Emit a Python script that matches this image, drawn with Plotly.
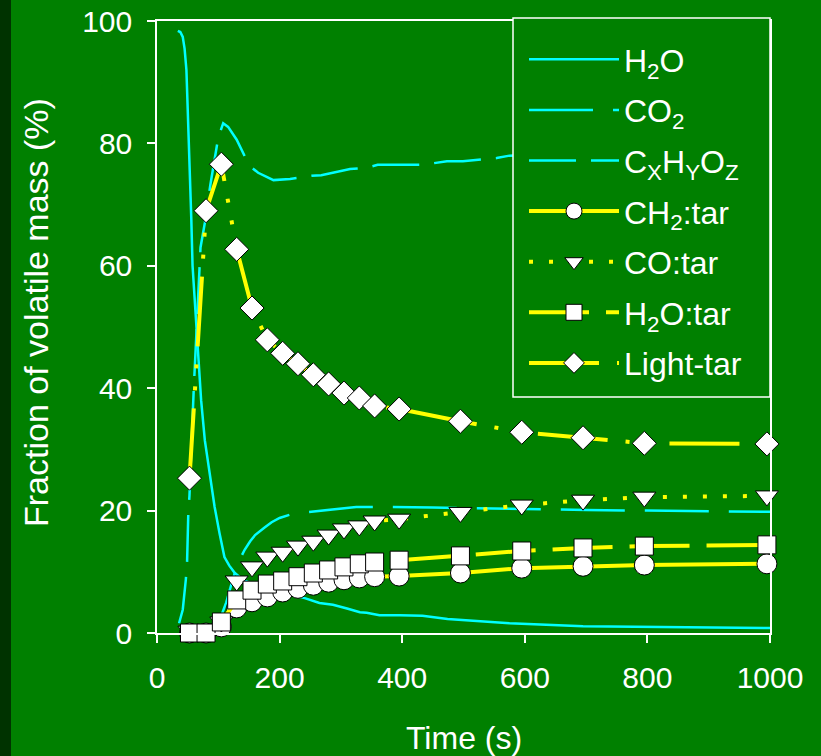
import plotly.graph_objects as go

# ---------------- data ----------------
h2o_t = [34, 38, 42, 45, 48, 51, 53, 56, 58, 65, 72, 78, 86, 94, 102, 110, 118, 127, 140, 160, 180,
         200, 220, 241, 265, 287, 310, 331, 342, 363, 396, 433, 474, 554, 575, 695, 776, 1000]
h2o_v = [98.4, 98.2, 97.4, 95.5, 92, 83.8, 75.7, 67.5, 60, 48, 38, 31.5, 26.1, 20.6, 16.3, 12.4, 11, 9.8,
         8.7, 7.8, 7.1, 6.6, 6.1, 5.7, 4.9, 4.6, 4.0, 3.4, 3.3, 2.9, 2.9, 2.8, 2.3, 1.8, 1.6, 1.1, 1.0, 0.8]

co2_t = [92, 100, 107, 113, 120, 127, 135, 143, 152, 160, 175, 187, 200, 219, 240, 265, 300, 325, 358,
         400, 450, 500, 550, 600, 650, 700, 800, 900, 1000]
co2_v = [0, 0.8, 3.4, 5, 7.5, 9.8, 12, 13.6, 15, 16, 17.2, 18.1, 18.8, 19.4, 19.7, 20, 20.3, 20.6, 20.6,
         20.6, 20.5, 20.4, 20.3, 20.3, 20.2, 20.1, 20.0, 19.9, 19.8]

cxhyoz_t = [36, 42, 47, 49, 51, 53, 60, 71, 78, 87, 100, 108, 116, 130, 146, 155, 165, 190, 217, 252,
            268, 293, 315, 342, 360, 396, 434, 473, 499, 554, 575, 650, 750, 850, 1000]
cxhyoz_v = [1.6, 3.8, 8.7, 11.4, 19.3, 22.5, 40, 63, 67, 73.2, 81, 83.3, 82.7, 80.6, 77.3, 76, 75.2, 74,
            74.2, 74.7, 74.8, 75.3, 75.8, 76, 76.5, 76.5, 76.5, 77.1, 77.1, 77.6, 78, 78.3, 78.6, 78.8, 79]

tar_t = [53, 80, 105, 130, 155, 180, 205, 230, 255, 280, 305, 330, 355, 395, 495, 595, 695, 795, 995]
ch2_tar = [0, 0, 1.0, 4.1, 5.1, 5.9, 6.7, 7.3, 7.8, 8.3, 8.7, 9.0, 9.2, 9.3, 9.8, 10.6, 10.9, 11.1, 11.3]
co_tar = [0.3, 0.3, 1.8, 8.5, 10.8, 12.4, 13.2, 14.2, 15.0, 16.0, 17.0, 17.5, 18.3, 18.6, 19.7, 20.9, 21.7, 22.2, 22.4]
h2o_tar = [0, 0, 1.8, 5.4, 7.0, 8.0, 8.5, 9.2, 9.8, 10.3, 10.8, 11.3, 11.6, 11.9, 12.6, 13.4, 13.9, 14.2, 14.4]
light_tar = [25.3, 69.0, 76.6, 62.7, 53.1, 47.9, 45.7, 44.0, 42.2, 40.7, 39.2, 38.4, 37.1, 36.6, 34.6,
             32.8, 31.9, 31.0, 30.9]

x_ticks = [0, 200, 400, 600, 800, 1000]
y_ticks = [0, 20, 40, 60, 80, 100]

# ---------------- styling ----------------
GREEN = "#008000"
CYAN = "#00FFFF"
YELLOW = "#FFFF00"
WHITE = "#FFFFFF"
FONT = "Liberation Sans, Arial, sans-serif"

fig = go.Figure()

cyan_series = [
    ("H<sub>2</sub>O", h2o_t, h2o_v, "solid"),
    ("CO<sub>2</sub>", co2_t, co2_v, "64px,20px"),
    ("C<sub>X</sub>H<sub>Y</sub>O<sub>Z</sub>", cxhyoz_t, cxhyoz_v, "47px,15px"),
]
for name, t, v, dash in cyan_series:
    fig.add_trace(go.Scatter(
        x=t, y=v, name=name, mode="lines", legendgroup=name,
        line=dict(color=CYAN, width=2.5, dash=dash),
        cliponaxis=False,
    ))

tar_series = [
    ("CH<sub>2</sub>:tar", ch2_tar, "solid", "circle", 20),
    ("CO:tar", co_tar, "4px,16px", "triangle-down", 20),
    ("H<sub>2</sub>O:tar", h2o_tar, "60px,17px", "square", 18),
    ("Light-tar", light_tar, "70px,18px,4px,18px,4px,18px", "diamond", 18.5),
]
for name, v, dash, sym, size in tar_series:
    fig.add_trace(go.Scatter(
        x=tar_t, y=v, name=name, mode="lines+markers", legendgroup=name,
        line=dict(color=YELLOW, width=4, dash=dash),
        marker=dict(symbol=sym, size=size, color=WHITE, line=dict(color="black", width=1)),
        cliponaxis=False,
    ))

# plot geometry (pixels)
L, R, T, B = 157, 51, 21, 123
W, H = 821, 756
pw, ph = W - L - R, H - T - B


def px_x(p):
    return (p - L) / pw


def px_y(p):
    return (H - B - p) / ph


axis_common = dict(
    showgrid=False, zeroline=False, automargin=False,
    showline=True, linecolor=WHITE, linewidth=1.5, mirror=True,
    ticks="outside", ticklen=8, tickwidth=1.5, tickcolor=WHITE,
    ticklabelstandoff=9,
    tickfont=dict(family=FONT, size=30, color=WHITE),
)

fig.update_layout(
    width=W, height=H,
    margin=dict(l=L, r=R, t=T, b=B, pad=0, autoexpand=False),
    paper_bgcolor=GREEN, plot_bgcolor=GREEN,
    font=dict(family=FONT, color=WHITE),
    xaxis=dict(range=[0, 1000], tickvals=x_ticks, **axis_common),
    yaxis=dict(range=[0, 100], tickvals=y_ticks, **axis_common),
    showlegend=True,
    legend=dict(
        x=px_x(524), y=px_y(32), xanchor="left", yanchor="top",
        bgcolor="rgba(0,0,0,0)", borderwidth=0,
        font=dict(family=FONT, size=32, color=WHITE),
        itemwidth=90, tracegroupgap=6, traceorder="grouped",
    ),
    shapes=[
        # dark strip on the left edge of the slide
        dict(type="rect", xref="paper", yref="paper",
             x0=px_x(0), x1=px_x(11), y0=px_y(H + 5), y1=px_y(-5),
             fillcolor="#003300", line=dict(width=0), layer="below"),
        # legend box
        dict(type="rect", xref="paper", yref="paper",
             x0=px_x(513), x1=px_x(770), y0=px_y(397), y1=px_y(18),
             fillcolor=GREEN, line=dict(color=WHITE, width=1.5), layer="above"),
    ],
    annotations=[
        dict(text="Time (s)", xref="paper", yref="paper", x=px_x(464), y=px_y(738),
             xanchor="center", yanchor="middle", showarrow=False,
             font=dict(family=FONT, size=32, color=WHITE)),
        dict(text="Fraction of volatile mass (%)", xref="paper", yref="paper",
             x=px_x(36), y=px_y(313), xanchor="center", yanchor="middle",
             textangle=-90, showarrow=False,
             font=dict(family=FONT, size=34, color=WHITE)),
    ],
)

fig.write_html("out.html")
